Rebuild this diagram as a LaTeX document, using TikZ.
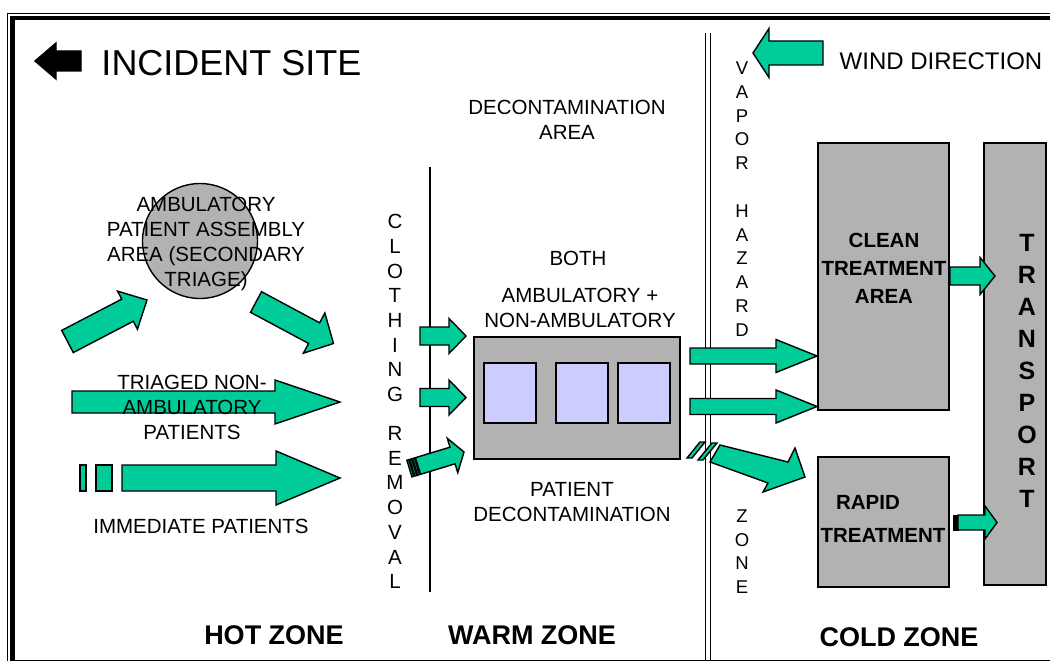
\documentclass[tikz,border=0pt]{standalone}
\usepackage{fontspec}
\setmainfont{Liberation Sans}
\usepackage{xcolor}
\usetikzlibrary{calc}

\definecolor{arrowgreen}{HTML}{00CC99}
\definecolor{boxgray}{HTML}{B2B2B2}
\definecolor{padlilac}{HTML}{CCCCFF}

% Блочная стрелка: [стиль]{хвост}{острие}{полуширина стержня}{полуширина головки}{длина головки}
\newcommand{\blockarrow}[6][arrowbody]{%
  \coordinate (ba-n) at ($(#3)!#6!(#2)$);
  \draw[#1] ($(#2)!#4!90:(#3)$) -- ($(ba-n)!#4!90:(#3)$) -- ($(ba-n)!#5!90:(#3)$) -- (#3)
    -- ($(ba-n)!#5!-90:(#3)$) -- ($(ba-n)!#4!-90:(#3)$) -- ($(#2)!#4!-90:(#3)$) -- cycle;
}
% Полоска у хвоста стрелки: {начало}{острие}{от}{до}{полуширина}
\newcommand{\tailstripe}[5]{%
  \coordinate (ts-a) at ($(#1)!#3!(#2)$);
  \coordinate (ts-b) at ($(#1)!#4!(#2)$);
  \draw[arrowbody] ($(ts-a)!#5!90:(#2)$) -- ($(ts-b)!#5!90:(#2)$) -- ($(ts-b)!#5!-90:(#2)$) -- ($(ts-a)!#5!-90:(#2)$) -- cycle;
}

\begin{document}
\begin{tikzpicture}[x=1pt, y=-1pt,
    arrowbody/.style={draw=black, fill=arrowgreen, line width=1.4pt, line join=miter},
    zonebox/.style={draw=black, fill=boxgray, line width=1.4pt, inner sep=0pt},
    pad/.style={draw=black, fill=padlilac, line width=1.4pt, inner sep=0pt, minimum width=52pt, minimum height=60pt},
    txt/.style={font=\fontsize{20.5}{25}\selectfont, align=center, inner sep=0pt},
    boldtxt/.style={font=\bfseries\fontsize{20.5}{28}\selectfont, align=center, inner sep=0pt},
    zonetxt/.style={font=\bfseries\fontsize{27}{30}\selectfont, inner sep=0pt},
    vtxt/.style={font=\fontsize{20.5}{24.7}\selectfont, align=center, inner sep=0pt}]

    % Рамка
    \useasboundingbox (0,0) rectangle (1050,661);
    \clip (0,0) rectangle (1050,661);
    \draw[line width=1.5pt] (7.5,13.5) rectangle (1100,700);
    \draw[line width=4.5pt] (12.5,18) rectangle (1100,662);

    % Границы зон
    \draw[line width=1.5pt] (430,167) -- (430,592);
    \draw[line width=1.4pt] (705.5,33) -- (705.5,670);
    \draw[line width=1.4pt] (710.5,33) -- (710.5,670);

    % Площадки и блоки
    \node[zonebox, circle, minimum size=115pt] (assembly) at (200,241) {};
    \node[zonebox, minimum width=206pt, minimum height=122pt] (decon) at (577,398) {};
    \node[pad] (pad1) at (510,393) {};
    \node[pad] (pad2) at (582,393) {};
    \node[pad] (pad3) at (644,393) {};
    \node[zonebox, minimum width=131pt, minimum height=267pt] (clean) at (883.5,276.5) {};
    \node[zonebox, minimum width=131pt, minimum height=130pt] (rapid) at (883.5,522) {};
    \node[zonebox, minimum width=62pt, minimum height=442pt] (transport) at (1015,364) {};

    % Стрелки горячей зоны
    \coordinate (a1t) at (67.5,341.5);  \coordinate (a1p) at (147,300);
    \coordinate (a2t) at (256,302);     \coordinate (a2p) at (333.5,343.5);
    \coordinate (a3t) at (72,402);      \coordinate (a3p) at (340,402);
    \coordinate (a4t) at (122,478);     \coordinate (a4p) at (340,478);
    \blockarrow{a1t}{a1p}{12.5pt}{21.5pt}{22pt}
    \blockarrow{a2t}{a2p}{11.7pt}{22.8pt}{22pt}
    \blockarrow{a3t}{a3p}{11pt}{22pt}{65pt}
    \blockarrow{a4t}{a4p}{13pt}{27pt}{64pt}
    \draw[arrowbody] (80,465) rectangle (86,491);
    \draw[arrowbody] (96,465) rectangle (112,491);

    % Стрелки через снятие одежды
    \coordinate (c1t) at (420,336);     \coordinate (c1p) at (466,336);
    \coordinate (c2t) at (420,397.5);   \coordinate (c2p) at (466,397.5);
    \coordinate (c3o) at (409.4,468.6); \coordinate (c3t) at (418,466); \coordinate (c3p) at (464,452);
    \blockarrow{c1t}{c1p}{9pt}{17.5pt}{17pt}
    \blockarrow{c2t}{c2p}{9pt}{17.5pt}{17pt}
    \tailstripe{c3o}{c3p}{0pt}{2pt}{8.7pt}
    \tailstripe{c3o}{c3p}{3pt}{5pt}{8.7pt}
    \tailstripe{c3o}{c3p}{6pt}{8pt}{8.7pt}
    \blockarrow{c3t}{c3p}{8.7pt}{18pt}{12pt}

    % Стрелки в холодную зону
    \coordinate (d1t) at (690,356);     \coordinate (d1p) at (817,356);
    \coordinate (d2t) at (690,406.5);   \coordinate (d2p) at (817,406.5);
    \blockarrow{d1t}{d1p}{8pt}{16.5pt}{41pt}
    \blockarrow{d2t}{d2p}{8pt}{16.5pt}{41pt}
    \draw[arrowbody] (687,458) -- (700,442) -- (705,442) -- (692,458) -- cycle;
    \draw[arrowbody] (698,460) -- (712,443) -- (717,443) -- (703,460) -- cycle;
    \draw[arrowbody] (720,445) -- (788,462) -- (795,448) -- (805,477) -- (763,492) -- (768,483) -- (710,462) -- cycle;

    % Стрелки к транспорту
    \coordinate (e1t) at (950,276);     \coordinate (e1p) at (995,276);
    \coordinate (e2t) at (958,522.5);   \coordinate (e2p) at (997,522.5);
    \blockarrow{e1t}{e1p}{9pt}{18.5pt}{15pt}
    \draw[fill=black, line width=1pt] (953,515) rectangle (958,530);
    \blockarrow{e2t}{e2p}{7.5pt}{16.5pt}{12pt}

    % Место инцидента и ветер
    \coordinate (inct) at (81,61);      \coordinate (incp) at (35,61);
    \coordinate (wndt) at (823,53);     \coordinate (wndp) at (753,53);
    \blockarrow[arrowbody, fill=black]{inct}{incp}{10pt}{18pt}{21pt}
    \blockarrow{wndt}{wndp}{12pt}{24.5pt}{16pt}

    % Надписи
    \node[font=\fontsize{36}{40}\selectfont, inner sep=0pt] (site) at (231.5,63.5) {INCIDENT SITE};
    \node[font=\fontsize{24}{28}\selectfont, inner sep=0pt] (wind) at (941,61) {WIND DIRECTION};
    \node[txt] (deconarea) at (567,120) {DECONTAMINATION\\AREA};
    \node[txt] (assemblytxt) at (206,244) {AMBULATORY\\PATIENT ASSEMBLY\\AREA (SECONDARY\\TRIAGE)};
    \node[txt] (triaged) at (192,407) {TRIAGED NON-\\AMBULATORY\\PATIENTS};
    \node[txt] (immediate) at (201,526) {IMMEDIATE PATIENTS};
    \node[txt] (both) at (578,258) {BOTH};
    \node[txt] (ambnon) at (580,308) {AMBULATORY +\\NON-AMBULATORY};
    \node[txt] (pdecon) at (572,502) {PATIENT\\DECONTAMINATION};
    \node[vtxt] (clothing) at (395,401.5) {C\\L\\O\\T\\H\\I\\N\\G\\[14.3pt]R\\E\\M\\O\\V\\A\\L};
    \node[vtxt, font=\fontsize{18.5}{23.8}\selectfont] (vapor) at (742,199) {V\\A\\P\\O\\R\\[23.8pt]H\\A\\Z\\A\\R\\D};
    \node[vtxt, font=\fontsize{18.5}{23.7}\selectfont] (vzone) at (742,551.5) {Z\\O\\N\\E};
    \node[boldtxt] (cleantxt) at (884,268) {CLEAN\\TREATMENT\\AREA};
    \node[boldtxt] (rapidtxt) at (868,502) {RAPID};
    \node[boldtxt] (rapidtxt2) at (883,535) {TREATMENT};
    \node[boldtxt, font=\bfseries\fontsize{25}{32}\selectfont] (transporttxt) at (1027,371) {T\\R\\A\\N\\S\\P\\O\\R\\T};
    \node[zonetxt] (hot) at (274,635) {HOT ZONE};
    \node[zonetxt] (warm) at (532,635) {WARM ZONE};
    \node[zonetxt] (cold) at (899,637) {COLD ZONE};

\end{tikzpicture}
\end{document}
